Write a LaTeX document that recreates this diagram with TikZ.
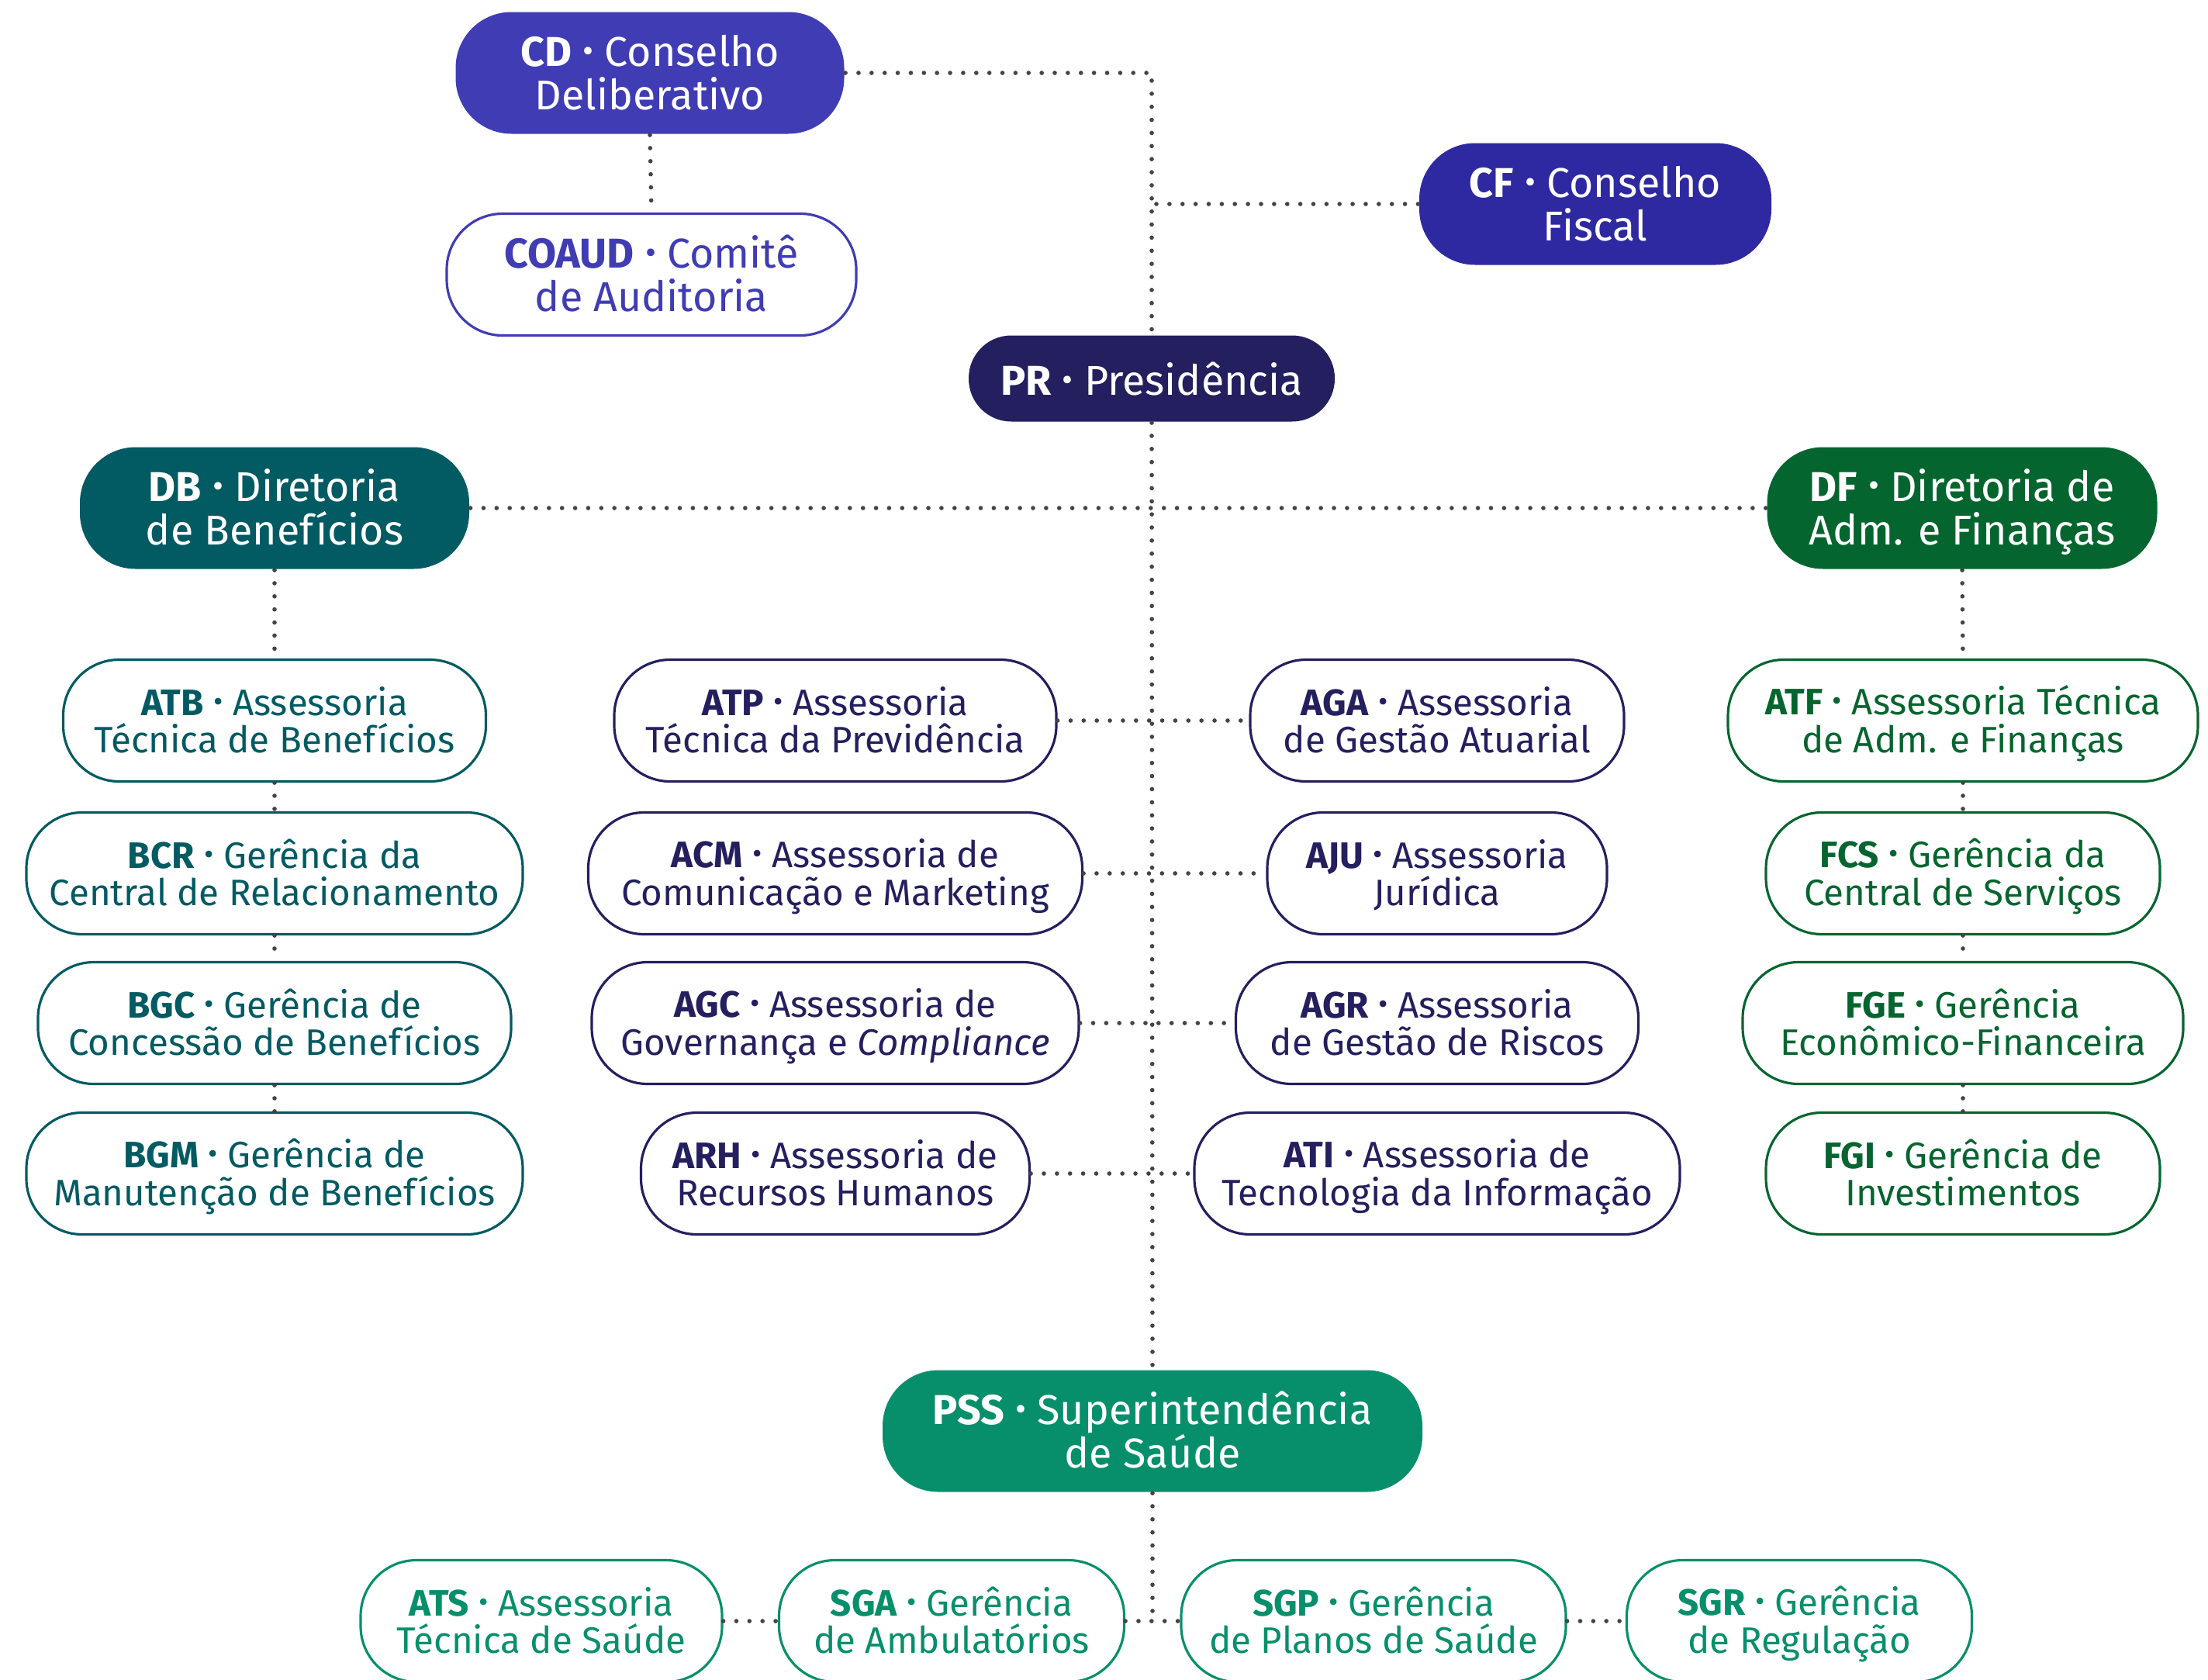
\documentclass[tikz,border=0pt]{standalone}
\usepackage{fontspec}
\setmainfont{Fira Sans}
\usetikzlibrary{positioning}

\definecolor{cdblue}{HTML}{403CB4}
\definecolor{cfblue}{HTML}{2E29A0}
\definecolor{prnavy}{HTML}{241F5F}
\definecolor{dbteal}{HTML}{025A62}
\definecolor{dfgreen}{HTML}{05652F}
\definecolor{pssgreen}{HTML}{078F6C}
\definecolor{dotgray}{HTML}{444444}

\newcommand{\dotsep}{\raisebox{0.1em}{\scalebox{0.8}{•}}}
\newcommand{\ab}[1]{\rule{0pt}{0.95em}\textbf{#1} \dotsep{} }

\tikzset{
	unit/.style={rounded corners=0.72cm, align=center, inner sep=0pt, minimum height=1.57cm, line width=0.9pt},
	head/.style={unit, fill=#1, text=white, font=\fontsize{15.3}{15.9}\selectfont},
	sub/.style={unit, draw=#1, fill=white, text=#1, font=\fontsize{13.5}{13.9}\selectfont},
	link/.style={dotgray, line width=1.6pt, line cap=round, dash pattern=on 0pt off 4.8pt},
}

\begin{document}
\begin{tikzpicture}
		\useasboundingbox (0,0) rectangle (28.47,-21.65);

		% COUNCILS AND PRESIDENCY
		\node[head=cdblue, minimum width=5.01cm] (CD) at (8.38,-0.94) {\ab{CD}Conselho\\Deliberativo\vphantom{g}};
		\node[sub=cdblue, minimum width=5.28cm, font=\fontsize{15.3}{15.9}\selectfont] (COAUD) at (8.40,-3.54) {\ab{COAUD}Comitê\\de Auditoria\vphantom{g}};
		\node[head=cfblue, minimum width=4.54cm] (CF) at (20.57,-2.63) {\ab{CF}Conselho\\Fiscal\vphantom{g}};
		\node[head=prnavy, minimum width=4.72cm, minimum height=1.11cm, rounded corners=0.55cm] (PR) at (14.85,-4.88) {\rule{0pt}{1.02em}\textbf{PR} \dotsep{} Presidência\vphantom{g}};

		% DIRECTORATES
		\node[head=dbteal, minimum width=5.02cm] (DB) at (3.54,-6.55) {\ab{DB}Diretoria\\de Benefícios\vphantom{g}};
		\node[head=dfgreen, minimum width=5.03cm] (DF) at (25.30,-6.55) {\ab{DF}Diretoria de\\Adm. e Finanças\vphantom{g}};

		% BENEFITS
		\node[sub=dbteal, minimum width=5.45cm] (ATB) at (3.54,-9.29) {\ab{ATB}Assessoria\\Técnica de Benefícios\vphantom{g}};
		\node[sub=dbteal, minimum width=6.40cm] (BCR) at (3.54,-11.26) {\ab{BCR}Gerência da\\Central de Relacionamento\vphantom{g}};
		\node[sub=dbteal, minimum width=6.10cm] (BGC) at (3.54,-13.19) {\ab{BGC}Gerência de\\Concessão de Benefícios\vphantom{g}};
		\node[sub=dbteal, minimum width=6.40cm] (BGM) at (3.54,-15.13) {\ab{BGM}Gerência de\\Manutenção de Benefícios\vphantom{g}};

		% ADVISORY UNITS
		\node[sub=prnavy, minimum width=5.70cm] (ATP) at (10.77,-9.29) {\ab{ATP}Assessoria\\Técnica da Previdência\vphantom{g}};
		\node[sub=prnavy, minimum width=6.37cm] (ACM) at (10.77,-11.26) {\ab{ACM}Assessoria de\\Comunicação e Marketing\vphantom{g}};
		\node[sub=prnavy, minimum width=6.28cm] (AGC) at (10.77,-13.19) {\ab{AGC}Assessoria de\\Governança e \textit{Compliance}\vphantom{g}};
		\node[sub=prnavy, minimum width=5.01cm] (ARH) at (10.77,-15.13) {\ab{ARH}Assessoria de\\Recursos Humanos\vphantom{g}};
		\node[sub=prnavy, minimum width=4.82cm] (AGA) at (18.53,-9.29) {\ab{AGA}Assessoria\\de Gestão Atuarial\vphantom{g}};
		\node[sub=prnavy, minimum width=4.38cm] (AJU) at (18.53,-11.26) {\ab{AJU}Assessoria\\Jurídica\vphantom{g}};
		\node[sub=prnavy, minimum width=5.19cm] (AGR) at (18.53,-13.19) {\ab{AGR}Assessoria\\de Gestão de Riscos\vphantom{g}};
		\node[sub=prnavy, minimum width=6.26cm] (ATI) at (18.53,-15.13) {\ab{ATI}Assessoria de\\Tecnologia da Informação\vphantom{g}};

		% FINANCE
		\node[sub=dfgreen, minimum width=6.06cm] (ATF) at (25.31,-9.29) {\ab{ATF}Assessoria Técnica\\de Adm. e Finanças\vphantom{g}};
		\node[sub=dfgreen, minimum width=5.08cm] (FCS) at (25.31,-11.26) {\ab{FCS}Gerência da\\Central de Serviços\vphantom{g}};
		\node[sub=dfgreen, minimum width=5.68cm] (FGE) at (25.31,-13.19) {\ab{FGE}Gerência\\Econômico-Financeira\vphantom{g}};
		\node[sub=dfgreen, minimum width=5.08cm] (FGI) at (25.31,-15.13) {\ab{FGI}Gerência de\\Investimentos\vphantom{g}};

		% HEALTH
		\node[head=pssgreen, minimum width=6.96cm] (PSS) at (14.86,-18.45) {\ab{PSS}Superintendência\\de Saúde\vphantom{g}};
		\node[sub=pssgreen, minimum width=4.66cm] (ATS) at (6.98,-20.90) {\ab{ATS}Assessoria\\Técnica de Saúde\vphantom{g}};
		\node[sub=pssgreen, minimum width=4.45cm] (SGA) at (12.27,-20.90) {\ab{SGA}Gerência\\de Ambulatórios\vphantom{g}};
		\node[sub=pssgreen, minimum width=4.96cm] (SGP) at (17.71,-20.90) {\ab{SGP}Gerência\\de Planos de Saúde\vphantom{g}};
		\node[sub=pssgreen, minimum width=4.45cm] (SGR) at (23.20,-20.90) {\ab{SGR}Gerência\\de Regulação\vphantom{g}};

		% CONNECTORS
		\draw[link] (CD.east) -| (PR.north);
		\draw[link] (CD.south) -- (COAUD.north);
		\draw[link] (CF.west) -- (CF.west -| PR.north);
		\draw[link] (PR.south) -- (PSS.north);
		\draw[link] (DB.east) -- (DF.west);
		\draw[link] (DB.south) -- (ATB.north);
		\draw[link] (ATB.south) -- (BCR.north);
		\draw[link] (BCR.south) -- (BGC.north);
		\draw[link] (BGC.south) -- (BGM.north);
		\draw[link] (DF.south) -- (ATF.north);
		\draw[link] (ATF.south) -- (FCS.north);
		\draw[link] (FCS.south) -- (FGE.north);
		\draw[link] (FGE.south) -- (FGI.north);
		\draw[link] (ATP.east) -- (AGA.west);
		\draw[link] (ACM.east) -- (AJU.west);
		\draw[link] (AGC.east) -- (AGR.west);
		\draw[link] (ARH.east) -- (ATI.west);
		\draw[link] (PSS.south) -- (SGA.east -| PSS.south);
		\draw[link] (ATS.east) -- (SGA.west);
		\draw[link] (SGA.east) -- (SGP.west);
		\draw[link] (SGP.east) -- (SGR.west);
	\end{tikzpicture}
\end{document}
